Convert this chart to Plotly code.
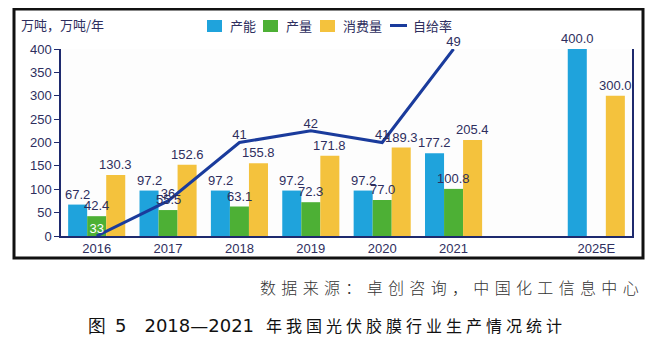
import plotly.graph_objects as go

categories = ["2016", "2017", "2018", "2019", "2020", "2021", " ", "2025E"]
capacity = [67.2, 97.2, 97.2, 97.2, 97.2, 177.2, None, 400.0]
production = [42.4, 55.5, 63.1, 72.3, 77.0, 100.8, None, None]
consumption = [130.3, 152.6, 155.8, 171.8, 189.3, 205.4, None, 300.0]
self_rate = [33, 36, 41, 42, 41, 49, None, None]
y_ticks = [0, 50, 100, 150, 200, 250, 300, 350, 400]

TXT = "#2e2e5e"
FONT = "Liberation Sans, Arial, sans-serif"
CJK = "Noto Sans CJK SC"
C_CAP, C_PROD, C_CONS, C_LINE = "#1fa3dc", "#4db035", "#f4c23d", "#1a3b9c"

def fmt(v):
    return "" if v is None else f"{v:.1f}"

series = [("产能", capacity, C_CAP), ("产量", production, C_PROD), ("消费量", consumption, C_CONS)]

fig = go.Figure()
for name, vals, col in series:
    fig.add_trace(go.Bar(name=name, x=categories, y=vals, marker_color=col,
                         marker_line_width=0))
fig.add_trace(go.Scatter(name="自给率", x=categories, y=self_rate, yaxis="y2",
                         mode="lines+text", line=dict(color=C_LINE, width=3),
                         text=["" if v is None else str(v) for v in self_rate],
                         textposition="top center",
                         textfont=dict(color=["#ffffff", TXT, TXT, TXT, TXT, TXT, TXT, TXT],
                                       size=13, family=FONT),
                         cliponaxis=False))

# page body has an 8px margin: shift the whole figure up/left by 8px
OFF = 8
fig.update_layout(
    width=658 - OFF, height=364 - OFF,
    margin=dict(l=61 - OFF, r=658 - 632, t=49 - OFF, b=364 - 236, autoexpand=False),
    paper_bgcolor="white", plot_bgcolor="#fdfdfd",
    barmode="group", bargap=0.2, bargroupgap=0,
    font=dict(family=FONT, color=TXT, size=13),
    showlegend=False,
    xaxis=dict(type="category", categoryorder="array", categoryarray=categories,
               range=[-0.5, len(categories) - 0.5],
               showline=True, linecolor="#1e2a6e", linewidth=1.5, ticks="",
               tickfont=dict(size=13, color=TXT), showgrid=False),
    yaxis=dict(range=[0, 400], tickvals=y_ticks, showline=True, linecolor="#1e2a6e",
               linewidth=1.5, mirror=True, ticks="outside", ticklen=5,
               tickcolor="#1e2a6e", showgrid=False, zeroline=False,
               tickfont=dict(size=13, color=TXT)),
    yaxis2=dict(range=[33, 49], overlaying="y", side="right", visible=False),
)

# bar value labels on top of everything (group slot width = 571/8*0.8/3 px)
slot = 571.0 / len(categories) * 0.8 / 3
for i, (name, vals, col) in enumerate(series):
    for k, v in enumerate(vals):
        if v is None:
            continue
        fig.add_annotation(x=k, y=v, xref="x", yref="y", text=fmt(v),
                           xshift=(i - 1) * slot, yshift=1, yanchor="bottom",
                           xanchor="center", showarrow=False,
                           font=dict(family=FONT, size=13, color=TXT))

W, H = 571.0, 187.0
def px(x): return (x - 61) / W
def py(y): return (236 - y) / H

# outer frame
fig.add_shape(type="rect", xref="paper", yref="paper",
              x0=px(14), x1=px(643), y0=py(9), y1=py(258),
              line=dict(color="#111111", width=3), fillcolor="rgba(0,0,0,0)", layer="below")

# manual legend
legend_items = [("产能", C_CAP, 207, "box"), ("产量", C_PROD, 263, "box"),
                ("消费量", C_CONS, 320, "box"), ("自给率", C_LINE, 390, "line")]
for label, col, x0, kind in legend_items:
    if kind == "box":
        fig.add_shape(type="rect", xref="paper", yref="paper",
                      x0=px(x0), x1=px(x0 + 15), y0=py(32), y1=py(20),
                      line_width=0, fillcolor=col)
    else:
        fig.add_shape(type="line", xref="paper", yref="paper",
                      x0=px(x0), x1=px(x0 + 17), y0=py(25.5), y1=py(25.5),
                      line=dict(color=col, width=3))
    fig.add_annotation(text=label, xref="paper", yref="paper", x=px(x0 + 21), y=py(25.5),
                       xanchor="left", yanchor="middle", showarrow=False,
                       font=dict(family=CJK, size=13, color=TXT))

fig.add_annotation(text="万吨，万吨/年", xref="paper", yref="paper", x=px(19), y=py(25),
                   xanchor="left", yanchor="middle", showarrow=False,
                   font=dict(family=CJK, size=13, color=TXT))

sp = "\u2004"
source = sp.join("数据来源：卓创咨询，中国化工信息中心")
fig.add_annotation(text=source, xref="paper", yref="paper",
                   x=px(641), y=py(287), xanchor="right", yanchor="middle", showarrow=False,
                   font=dict(family=CJK, size=16, color="#333333", weight=300))

cap_left = "图\u20025\u2003" + "2018—2021"
cap_right = "\u2005".join("年我国光伏胶膜行业生产情况统计")
fig.add_annotation(text=cap_left, xref="paper", yref="paper",
                   x=px(86), y=py(325), xanchor="left", yanchor="middle", showarrow=False,
                   font=dict(family="DejaVu Sans", size=18, color="#111111"))
fig.add_annotation(text=cap_right, xref="paper", yref="paper",
                   x=px(564), y=py(325), xanchor="right", yanchor="middle", showarrow=False,
                   font=dict(family=CJK, size=16, color="#111111"))

fig.write_html("out.html")
